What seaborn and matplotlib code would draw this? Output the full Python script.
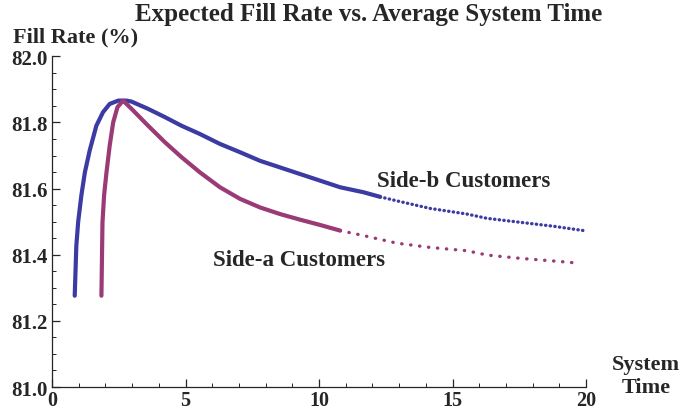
import matplotlib
matplotlib.use("Agg")
import matplotlib.pyplot as plt
from matplotlib.ticker import MultipleLocator
import seaborn as sns
import pandas as pd

# ── Data ─────────────────────────────────────────────────────────────────────
side_b_time = [0.85, 0.91, 0.98, 1.10, 1.23, 1.41, 1.66, 1.91, 2.16, 2.48,
               2.79, 2.98, 3.60, 4.23, 4.85, 5.54, 6.29, 7.04, 7.79, 8.54,
               9.29, 10.04, 10.79, 11.66, 12.29, 12.91, 14.16, 15.54, 16.29,
               17.54, 18.79, 19.91]
side_b_fill = [81.276, 81.427, 81.500, 81.580, 81.649, 81.715, 81.790, 81.831,
               81.856, 81.866, 81.866, 81.863, 81.841, 81.816, 81.790, 81.765,
               81.735, 81.710, 81.684, 81.664, 81.644, 81.624, 81.604, 81.589,
               81.575, 81.563, 81.540, 81.523, 81.510, 81.498, 81.486, 81.473]
side_b_dotted_from = 12.29

side_a_time = [1.85, 1.89, 1.95, 2.04, 2.16, 2.29, 2.45, 2.66, 2.98, 3.60,
               4.23, 4.85, 5.54, 6.29, 7.04, 7.79, 8.54, 9.29, 10.04, 10.79,
               11.66, 12.91, 14.16, 15.54, 16.29, 17.54, 18.79, 19.66]
side_a_fill = [81.276, 81.498, 81.580, 81.649, 81.730, 81.800, 81.846, 81.866,
               81.841, 81.790, 81.740, 81.695, 81.649, 81.604, 81.569, 81.543,
               81.523, 81.506, 81.490, 81.473, 81.458, 81.435, 81.422, 81.412,
               81.399, 81.389, 81.381, 81.375]
side_a_dotted_from = 10.79

x_ticks = [0, 5, 10, 15, 20]
y_ticks = [81.0, 81.2, 81.4, 81.6, 81.8, 82.0]

BLUE = "#3b3ba3"
PURPLE = "#9a3a76"
SERIF = ["Liberation Serif", "DejaVu Serif"]

sns.set_style("ticks")
plt.rcParams["font.family"] = SERIF
plt.rcParams["font.weight"] = "bold"

fig = plt.figure(figsize=(6.81, 4.14), dpi=100)
ax = fig.add_axes([0.0764, 0.0628, 0.7841, 0.7988])


def draw(times, fills, cut, color, gap):
    df = pd.DataFrame({"t": times, "f": fills})
    solid = df[df["t"] <= cut]
    dotted = df[df["t"] >= cut]
    sns.lineplot(data=solid, x="t", y="f", ax=ax, color=color, lw=3.0,
                 sort=False, estimator=None)
    line = sns.lineplot(data=dotted, x="t", y="f", ax=ax, color=color,
                        lw=2.4, sort=False, estimator=None).lines[-1]
    line.set_linestyle((0, (0.1, gap)))
    line.set_dash_capstyle("round")
    line.set_solid_joinstyle("round")


draw(side_b_time, side_b_fill, side_b_dotted_from, BLUE, 1.3)
draw(side_a_time, side_a_fill, side_a_dotted_from, PURPLE, 2.6)

ax.set_xlim(0, 20)
ax.set_ylim(81.0, 82.0)
ax.set_xticks(x_ticks)
ax.set_yticks(y_ticks)
ax.set_yticklabels([f"{v:.1f}" for v in y_ticks])
ax.xaxis.set_minor_locator(MultipleLocator(1))
ax.yaxis.set_minor_locator(MultipleLocator(0.05))
ax.tick_params(which="major", direction="in", length=6, width=0.9,
               labelsize=15)
ax.tick_params(axis="x", which="major", pad=2, labelsize=14.5)
ax.tick_params(axis="y", which="major", pad=3)
ax.tick_params(which="minor", direction="in", length=3, width=0.7)
ax.set_xlabel("")
ax.set_ylabel("")
for s in ["top", "right"]:
    ax.spines[s].set_visible(False)
for s in ["left", "bottom"]:
    ax.spines[s].set_linewidth(0.9)

fig.text(369 / 681, 1 - 14 / 414, "Expected Fill Rate vs. Average System Time",
         ha="center", va="center", fontsize=18, fontweight="bold")
fig.text(13 / 681, 1 - 37 / 414, "Fill Rate (%)", ha="left", va="center",
         fontsize=16, fontweight="bold")
fig.text(646 / 681, 1 - 377 / 414, "System\nTime", ha="center", va="center",
         fontsize=16, fontweight="bold", linespacing=1.2)
ax.text(15.4, 81.623, "Side-b Customers", ha="center", va="center",
        fontsize=16.5, fontweight="bold")
ax.text(9.25, 81.387, "Side-a Customers", ha="center", va="center",
        fontsize=16.5, fontweight="bold")

fig.savefig("out.png", dpi=100)
